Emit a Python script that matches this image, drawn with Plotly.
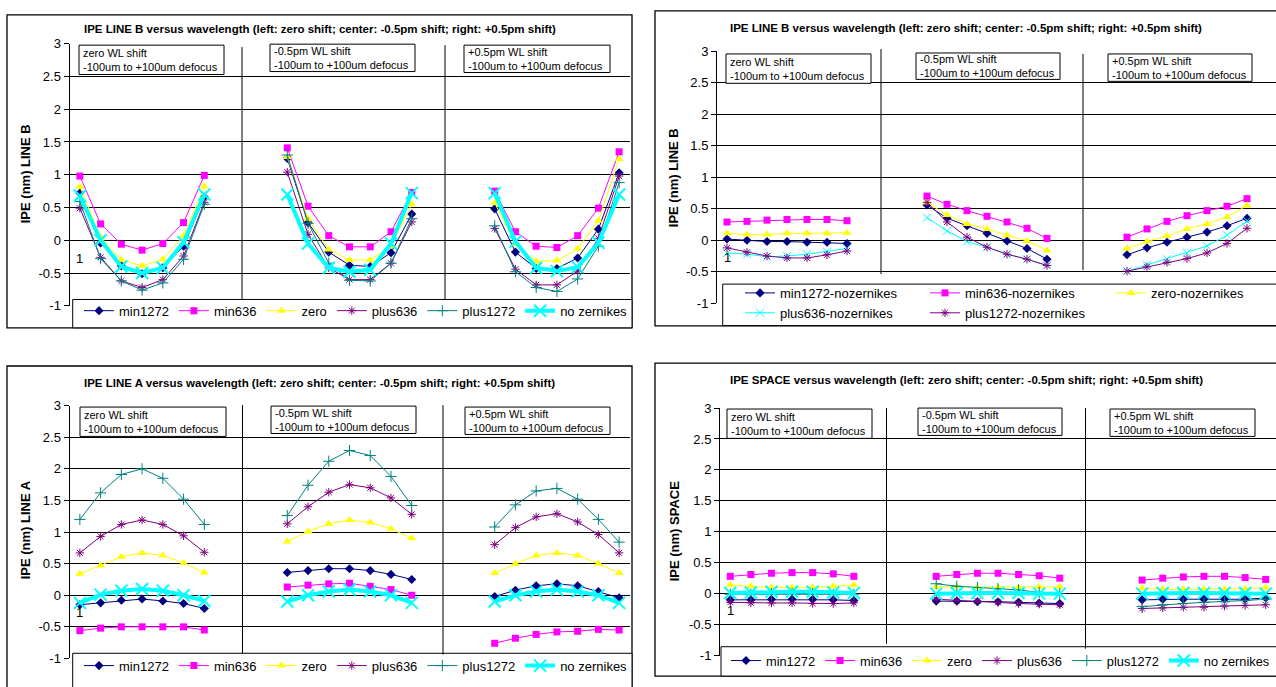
import plotly.graph_objects as go

W, H = 1276, 687

# ---------------- data (3 groups of 7 points: zero shift, -0.5pm, +0.5pm) -------------
TL_MIN1272 = [0.72, -0.04, -0.39, -0.51, -0.42, -0.09, 0.66, 1.25, 0.27, -0.18, -0.38, -0.40, -0.19, 0.40, 0.48, -0.18, -0.43, -0.43, -0.27, 0.17, 1.03]
TL_MIN636 = [0.98, 0.25, -0.06, -0.15, -0.05, 0.27, 0.99, 1.41, 0.52, 0.07, -0.10, -0.10, 0.13, 0.73, 0.75, 0.13, -0.09, -0.11, 0.07, 0.49, 1.35]
TL_ZERO = [0.82, 0.05, -0.30, -0.39, -0.29, 0.07, 0.82, 1.27, 0.33, -0.14, -0.30, -0.30, -0.09, 0.55, 0.57, -0.06, -0.32, -0.31, -0.13, 0.30, 1.24]
TL_PLUS636 = [0.49, -0.26, -0.62, -0.72, -0.60, -0.24, 0.58, 1.04, 0.09, -0.42, -0.60, -0.60, -0.35, 0.28, 0.18, -0.44, -0.68, -0.68, -0.47, 0.03, 0.98]
TL_PLUS1272 = [0.59, -0.28, -0.62, -0.76, -0.65, -0.29, 0.55, 1.30, 0.26, -0.35, -0.61, -0.62, -0.35, 0.33, 0.22, -0.48, -0.72, -0.78, -0.59, -0.09, 0.88]
TL_NOZERN = [0.68, 0.00, -0.40, -0.50, -0.42, -0.03, 0.70, 0.70, -0.05, -0.42, -0.48, -0.45, -0.05, 0.72, 0.72, -0.02, -0.42, -0.47, -0.41, -0.04, 0.70]

TR_MIN1272 = [0.02, 0.00, -0.02, -0.02, -0.03, -0.03, -0.05, 0.56, 0.35, 0.23, 0.11, -0.01, -0.13, -0.30, -0.23, -0.12, -0.03, 0.05, 0.13, 0.23, 0.35]
TR_MIN636 = [0.29, 0.30, 0.32, 0.33, 0.33, 0.33, 0.31, 0.70, 0.57, 0.47, 0.38, 0.29, 0.19, 0.03, 0.05, 0.18, 0.30, 0.39, 0.47, 0.54, 0.66]
TR_ZERO = [0.11, 0.09, 0.09, 0.11, 0.11, 0.11, 0.12, 0.60, 0.40, 0.26, 0.18, 0.08, -0.01, -0.16, -0.13, -0.02, 0.07, 0.18, 0.26, 0.37, 0.55]
TR_PLUS636 = [-0.20, -0.22, -0.26, -0.25, -0.22, -0.18, -0.13, 0.36, 0.15, -0.02, -0.11, -0.22, -0.30, -0.40, -0.49, -0.39, -0.30, -0.20, -0.09, 0.08, 0.31]
TR_PLUS1272 = [-0.12, -0.19, -0.25, -0.28, -0.28, -0.23, -0.17, 0.60, 0.29, 0.05, -0.11, -0.22, -0.30, -0.40, -0.49, -0.42, -0.35, -0.29, -0.20, -0.05, 0.19]

BL_MIN1272 = [-0.15, -0.12, -0.08, -0.06, -0.09, -0.13, -0.21, 0.36, 0.39, 0.42, 0.42, 0.39, 0.33, 0.25, -0.02, 0.08, 0.15, 0.18, 0.15, 0.06, -0.04]
BL_MIN636 = [-0.56, -0.52, -0.50, -0.50, -0.50, -0.50, -0.55, 0.13, 0.16, 0.18, 0.19, 0.14, 0.09, 0.00, -0.76, -0.68, -0.62, -0.58, -0.57, -0.54, -0.55]
BL_ZERO = [0.34, 0.47, 0.61, 0.67, 0.63, 0.51, 0.36, 0.85, 1.01, 1.13, 1.19, 1.15, 1.05, 0.90, 0.35, 0.50, 0.63, 0.67, 0.63, 0.50, 0.35]
BL_PLUS636 = [0.67, 0.93, 1.12, 1.19, 1.12, 0.94, 0.68, 1.13, 1.40, 1.63, 1.75, 1.70, 1.54, 1.28, 0.80, 1.07, 1.24, 1.29, 1.16, 0.96, 0.67]
BL_PLUS1272 = [1.20, 1.62, 1.91, 2.00, 1.85, 1.52, 1.12, 1.26, 1.74, 2.12, 2.29, 2.21, 1.88, 1.42, 1.08, 1.43, 1.65, 1.69, 1.52, 1.20, 0.84]
BL_NOZERN = [-0.12, 0.01, 0.07, 0.10, 0.07, 0.00, -0.09, -0.10, 0.00, 0.06, 0.09, 0.06, 0.00, -0.12, -0.10, 0.00, 0.06, 0.09, 0.06, 0.00, -0.12]

BR_MIN1272 = [-0.10, -0.10, -0.09, -0.09, -0.09, -0.10, -0.11, -0.12, -0.12, -0.13, -0.13, -0.14, -0.15, -0.16, -0.10, -0.09, -0.09, -0.09, -0.09, -0.09, -0.07]
BR_MIN636 = [0.28, 0.31, 0.33, 0.34, 0.34, 0.32, 0.28, 0.28, 0.31, 0.33, 0.33, 0.31, 0.29, 0.25, 0.22, 0.25, 0.27, 0.28, 0.28, 0.26, 0.23]
BR_ZERO = [0.14, 0.12, 0.10, 0.10, 0.10, 0.12, 0.14, 0.11, 0.11, 0.10, 0.10, 0.10, 0.11, 0.11, 0.09, 0.07, 0.07, 0.07, 0.07, 0.08, 0.10]
BR_PLUS636 = [-0.14, -0.15, -0.15, -0.15, -0.16, -0.16, -0.15, -0.09, -0.11, -0.12, -0.14, -0.16, -0.17, -0.18, -0.24, -0.23, -0.22, -0.22, -0.20, -0.19, -0.18]
BR_PLUS1272 = [-0.01, -0.01, 0.00, 0.00, 0.00, -0.01, -0.01, 0.16, 0.12, 0.10, 0.08, 0.06, 0.02, 0.00, -0.21, -0.18, -0.16, -0.14, -0.13, -0.11, -0.09]
BR_NOZERN = [0.01, 0.02, 0.03, 0.03, 0.03, 0.02, 0.01, 0.00, 0.01, 0.01, 0.01, 0.01, 0.00, 0.00, 0.00, 0.01, 0.01, 0.01, 0.01, 0.01, 0.00]

SERIES_NAMES = ["min1272", "min636", "zero", "plus636", "plus1272", "no zernikes"]
NOZ_NAMES = ["min1272-nozernikes", "min636-nozernikes", "zero-nozernikes",
             "plus636-nozernikes", "plus1272-nozernikes"]
TITLES = [
    "IPE LINE B versus wavelength (left: zero shift; center: -0.5pm shift; right: +0.5pm shift)",
    "IPE LINE B versus wavelength (left: zero shift; center: -0.5pm shift; right: +0.5pm shift)",
    "IPE LINE A versus wavelength (left: zero shift; center: -0.5pm shift; right: +0.5pm shift)",
    "IPE SPACE versus wavelength (left: zero shift; center: -0.5pm shift; right: +0.5pm shift)",
]
YTITLES = ["IPE (nm) LINE B", "IPE (nm) LINE B", "IPE (nm) LINE A", "IPE (nm) SPACE"]
BOX_TEXTS = ["zero WL shift<br>-100um to +100um defocus",
             "-0.5pm WL shift<br>-100um to +100um defocus",
             "+0.5pm WL shift<br>-100um to +100um defocus"]
YTICKS = [-1, -0.5, 0, 0.5, 1, 1.5, 2, 2.5, 3]
YTICKTEXT = ["-1", "-0.5", "0", "0.5", "1", "1.5", "2", "2.5", "3"]

X_IDX = list(range(27))


def expand(vals):
    return vals[0:7] + [None] * 3 + vals[7:14] + [None] * 3 + vals[14:21]


FONT = "Arial, Liberation Sans, sans-serif"
NAVY, MAG, YEL, PUR, TEAL, CYAN = "#000080", "#FF00FF", "#FFFF00", "#800080", "#008080", "#00FFFF"

STYLE = {
    "min1272": dict(line=dict(color=NAVY, width=1), marker=dict(symbol="diamond", size=7, color=NAVY)),
    "min636": dict(line=dict(color=MAG, width=1), marker=dict(symbol="square", size=7, color=MAG)),
    "zero": dict(line=dict(color=YEL, width=1), marker=dict(symbol="triangle-up", size=8, color=YEL)),
    "plus636": dict(line=dict(color=PUR, width=1),
                    marker=dict(symbol="asterisk-open", size=7, color=PUR, line=dict(color=PUR, width=1))),
    "plus1272": dict(line=dict(color=TEAL, width=1),
                     marker=dict(symbol="cross-thin-open", size=8, color=TEAL, line=dict(color=TEAL, width=1))),
    "no zernikes": dict(line=dict(color=CYAN, width=4),
                        marker=dict(symbol="x-thin-open", size=12, color=CYAN, line=dict(color=CYAN, width=2))),
    "min1272-nozernikes": dict(line=dict(color=NAVY, width=1), marker=dict(symbol="diamond", size=7, color=NAVY)),
    "min636-nozernikes": dict(line=dict(color=MAG, width=1), marker=dict(symbol="square", size=7, color=MAG)),
    "zero-nozernikes": dict(line=dict(color=YEL, width=1), marker=dict(symbol="triangle-up", size=8, color=YEL)),
    "plus636-nozernikes": dict(line=dict(color=CYAN, width=1),
                               marker=dict(symbol="x-thin-open", size=8, color=CYAN, line=dict(color=CYAN, width=1))),
    "plus1272-nozernikes": dict(line=dict(color=PUR, width=1),
                                marker=dict(symbol="asterisk-open", size=7, color=PUR, line=dict(color=PUR, width=1))),
}


def px(x):
    return x / W


def py(y):
    return 1 - y / H


fig = go.Figure()

PANELS = [
    ("", [TL_MIN1272, TL_MIN636, TL_ZERO, TL_PLUS636, TL_PLUS1272, TL_NOZERN], SERIES_NAMES,
     ["legend"] * 6),
    ("2", [TR_MIN1272, TR_MIN636, TR_ZERO, TR_PLUS636, TR_PLUS1272], NOZ_NAMES,
     ["legend2", "legend3", "legend4", "legend2", "legend3"]),
    ("3", [BL_MIN1272, BL_MIN636, BL_ZERO, BL_PLUS636, BL_PLUS1272, BL_NOZERN], SERIES_NAMES,
     ["legend5"] * 6),
    ("4", [BR_MIN1272, BR_MIN636, BR_ZERO, BR_PLUS636, BR_PLUS1272, BR_NOZERN], SERIES_NAMES,
     ["legend6"] * 6),
]

for suf, datas, names, legs in PANELS:
    for vals, name, leg in zip(datas, names, legs):
        st = STYLE[name]
        fig.add_trace(go.Scatter(
            x=X_IDX, y=expand(vals), name=name, mode="lines+markers",
            line=st["line"], marker=st["marker"], legend=leg,
            xaxis="x" + suf, yaxis="y" + suf, connectgaps=False, cliponaxis=False,
        ))

GEOM = [
    # xl, xr, xmax, ytop(3), ybot(-1)
    (69.5, 629.5, 26.5, 37.5, 305.5),
    (717.0, 1276.0, 27.45, 45.0, 303.0),
    (69.5, 629.5, 26.5, 407.5, 666.0),
    (720.0, 1276.0, 26.5, 410.0, 663.0),
]

layout = dict(
    width=W, height=H, autosize=False,
    margin=dict(l=0, r=0, t=0, b=0),
    paper_bgcolor="white", plot_bgcolor="white",
    font=dict(family=FONT, color="black", size=12),
    showlegend=True,
)
for i, (xl, xr, xmax, yt, yb) in enumerate(GEOM):
    suf = "" if i == 0 else str(i + 1)
    layout["xaxis" + suf] = dict(
        domain=[px(xl), px(xr)], range=[-0.5, xmax], showgrid=False, zeroline=False,
        showline=False, showticklabels=False, ticks="", fixedrange=True,
        anchor="y" + suf,
    )
    layout["yaxis" + suf] = dict(
        domain=[py(yb), py(yt)], range=[-1, 3], tickvals=YTICKS, ticktext=YTICKTEXT,
        showgrid=True, gridcolor="black", gridwidth=1, zeroline=False,
        showline=True, linecolor="black", linewidth=1, ticks="outside", ticklen=5,
        tickcolor="black", tickfont=dict(family=FONT, size=13, color="black"),
        fixedrange=True, anchor="x" + suf,
    )


def leg(orient, x, y, yanchor, size=13):
    return dict(orientation=orient, x=px(x), y=py(y), yanchor=yanchor, xanchor="left",
                bgcolor="rgba(0,0,0,0)", borderwidth=0,
                font=dict(family=FONT, size=size, color="black"),
                itemclick=False, itemdoubleclick=False)


layout["legend"] = leg("h", 79, 310.5, "middle")
layout["legend2"] = leg("v", 740, 277, "top")
layout["legend3"] = leg("v", 925, 277, "top")
layout["legend4"] = leg("v", 1111, 277, "top")
layout["legend5"] = leg("h", 79, 658, "top")
layout["legend6"] = leg("h", 726, 653, "top", size=12.8)

shapes = []
annotations = []


def rect(x0, y0, x1, y1, fill="rgba(0,0,0,0)", width=1, layer="above"):
    shapes.append(dict(type="rect", xref="paper", yref="paper", x0=px(x0), x1=px(x1),
                       y0=py(y0), y1=py(y1), line=dict(color="black", width=width),
                       fillcolor=fill, layer=layer))


def vline(x, y0, y1):
    shapes.append(dict(type="line", xref="paper", yref="paper", x0=px(x), x1=px(x),
                       y0=py(y0), y1=py(y1), line=dict(color="black", width=1), layer="above"))


# chart frames (right/bottom edges of some frames are cut off by the picture)
rect(7, 8, 632, 328, width=1.3)
rect(655, 4, 1290, 326, width=1.3)
rect(7, 367, 632, 700, width=1.3)
rect(655, 364, 1290, 684, width=1.3)

# legend boxes
rect(72.7, 299, 632, 328, fill="white")
rect(722.7, 283.3, 1290, 325.7, fill="white")
rect(72.7, 660.7, 632, 700, fill="white")
rect(721, 654, 1290, 684, fill="white")

# group divider lines
vline(242, 41, 299)
vline(445, 39, 299)
vline(881, 43, 273)
vline(1083, 48, 269)
vline(242.5, 407, 660.7)
vline(443, 407, 662)
vline(886.5, 410, 651)
vline(1085.5, 410, 656)

# label boxes
BOXES = [
    [(79, 39, 224, 69), (270, 38, 415, 66), (464, 39, 610, 67)],
    [(726, 48, 871, 78), (916, 47, 1060, 74), (1108, 48, 1252, 76)],
    [(80, 409, 226, 439), (271, 408, 416, 436), (465, 409, 610, 437)],
    [(727, 411, 872, 441), (918, 410, 1062, 438), (1110, 411, 1255, 439)],
]
for panel in BOXES:
    for (x0, y0, x1, y1), txt in zip(panel, BOX_TEXTS):
        rect(x0, y0, x1, y1, fill="white")
        annotations.append(dict(xref="paper", yref="paper", x=px(x0 + 2), y=py((y0 + y1) / 2),
                                xanchor="left", yanchor="middle", align="left", showarrow=False,
                                text=txt, font=dict(family=FONT, size=11, color="black")))

# titles
for (cx, cy), t in zip([(320, 22), (966, 21), (320, 384), (966, 381)], TITLES):
    annotations.append(dict(xref="paper", yref="paper", x=px(cx), y=py(cy), xanchor="center",
                            yanchor="middle", showarrow=False, text="<b>" + t + "</b>",
                            font=dict(family=FONT, size=11.5, color="black")))

# y-axis titles
for (cx, cy), t in zip([(25, 171), (673, 174), (25, 535), (674, 536)], YTITLES):
    annotations.append(dict(xref="paper", yref="paper", x=px(cx), y=py(cy), xanchor="center",
                            yanchor="middle", showarrow=False, text="<b>" + t + "</b>",
                            textangle=-90, font=dict(family=FONT, size=13, color="black")))

# stray "1" category labels
for suf in ["", "2", "3", "4"]:
    annotations.append(dict(xref="x" + suf, yref="y" + suf, x=0, y=-0.28, xanchor="center",
                            yanchor="middle", showarrow=False, text="1",
                            font=dict(family=FONT, size=13, color="black")))

layout["shapes"] = shapes
layout["annotations"] = annotations
fig.update_layout(**layout)

fig.write_html("out.html")
